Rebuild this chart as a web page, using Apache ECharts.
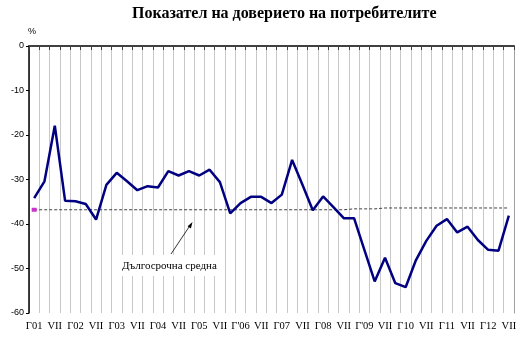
<!DOCTYPE html>
<html>
<head>
<meta charset="utf-8">
<script src="https://cdn.jsdelivr.net/npm/echarts@6/dist/echarts.min.js"></script>
<style>
  html, body { margin: 0; padding: 0; background: #fff; }
  #chart { width: 528px; height: 342px; }
</style>
</head>
<body>
<div id="chart"></div>
<script>
// Quarterly axis labels: January of each year and July in between
const tickLabels = [
  'Г01', '', 'VII', '', 'Г02', '', 'VII', '', 'Г03', '', 'VII', '',
  'Г04', '', 'VII', '', 'Г05', '', 'VII', '', "Г'06", '', 'VII', '',
  'Г07', '', 'VII', '', 'Г08', '', 'VII', '', "Г'09", '', 'VII', '',
  'Г10', '', 'VII', '', 'Г11', '', 'VII', '', 'Г12', '', 'VII'
];

// Consumer confidence indicator, %
const confidence = [
  -34.2, -30.4, -17.9, -34.8, -34.9, -35.5, -39.0, -31.2, -28.5, -30.4, -32.4, -31.5,
  -31.8, -28.1, -29.1, -28.1, -29.1, -27.8, -30.6, -37.6, -35.3, -33.9, -33.9, -35.3,
  -33.4, -25.6, -31.2, -36.9, -33.8, -36.2, -38.7, -38.7, -45.8, -52.9, -47.6, -53.3,
  -54.2, -48.1, -43.8, -40.4, -38.9, -41.9, -40.6, -43.6, -45.8, -46.0, -38.1
];

// Long-term average
const longTermAverage = [
  -36.8, -36.8, -36.8, -36.8, -36.8, -36.8, -36.8, -36.8, -36.8, -36.8, -36.8, -36.8,
  -36.8, -36.8, -36.8, -36.8, -36.8, -36.8, -36.8, -36.8, -36.8, -36.8, -36.8, -36.8,
  -36.8, -36.8, -36.8, -36.8, -36.8, -36.8, -36.8, -36.6, -36.6, -36.6, -36.4, -36.4,
  -36.4, -36.4, -36.4, -36.4, -36.4, -36.4, -36.4, -36.4, -36.4, -36.4, -36.4
];

const yTicks = { min: -60, max: 0, interval: 10 };

const chart = echarts.init(document.getElementById('chart'), null, { renderer: 'canvas' });

const avgData = longTermAverage.map((v, i) => i === 0
  ? { value: v, symbol: 'rect', symbolSize: [5, 4], itemStyle: { color: '#cc33cc' } }
  : v);

chart.setOption({
  animation: false,
  backgroundColor: '#fff',
  title: {
    text: 'Показател на доверието на потребителите',
    left: 127,
    top: 1,
    textStyle: {
      fontFamily: 'Liberation Serif',
      fontWeight: 'bold',
      fontSize: 16,
      color: '#000'
    }
  },
  grid: { left: 29, right: 14, top: 46, bottom: 29, containLabel: false },
  xAxis: [
    {
      type: 'category',
      data: tickLabels,
      position: 'bottom',
      boundaryGap: true,
      axisLine: { show: true, lineStyle: { color: '#a0a0a0', width: 1 } },
      axisTick: { show: false },
      axisLabel: {
        interval: 0,
        margin: 8,
        fontFamily: 'Liberation Serif',
        fontSize: 10.5,
        color: '#000'
      },
      splitLine: { show: true, interval: 0, lineStyle: { color: '#c8c8c8', width: 1 } }
    },
    {
      type: 'category',
      data: tickLabels,
      position: 'top',
      boundaryGap: true,
      axisLine: { show: true, lineStyle: { color: '#404040', width: 2 } },
      axisTick: { show: true, inside: true, interval: 0, length: 4, lineStyle: { color: '#404040', width: 1 } },
      axisLabel: { show: false },
      splitLine: { show: false }
    }
  ],
  yAxis: [
    {
      type: 'value',
      min: yTicks.min,
      max: yTicks.max,
      interval: yTicks.interval,
      name: '%',
      nameLocation: 'end',
      nameGap: 10,
      nameTextStyle: { fontFamily: 'Liberation Sans', fontSize: 9, color: '#000', align: 'left', padding: [0, 0, 0, -1] },
      axisLine: { show: true, lineStyle: { color: '#000', width: 1.5 } },
      axisTick: { show: true, length: 3, lineStyle: { color: '#000' } },
      axisLabel: { margin: 5, fontFamily: 'Liberation Sans', fontSize: 9, color: '#000' },
      splitLine: { show: false }
    },
    {
      type: 'value',
      position: 'right',
      min: yTicks.min,
      max: yTicks.max,
      interval: yTicks.interval,
      axisLine: { show: true, lineStyle: { color: '#a0a0a0', width: 1 } },
      axisTick: { show: false },
      axisLabel: { show: false },
      splitLine: { show: false }
    }
  ],
  series: [
    {
      name: 'Дългосрочна средна',
      type: 'line',
      data: avgData,
      symbol: 'none',
      showSymbol: true,
      lineStyle: { color: '#404040', width: 1, type: [3, 2] },
      z: 2
    },
    {
      name: 'Показател на доверието',
      type: 'line',
      data: confidence,
      symbol: 'none',
      lineStyle: { color: '#000080', width: 2.5 },
      z: 3
    }
  ],
  graphic: [
    {
      type: 'rect',
      shape: { x: 118, y: 255, width: 106, height: 21 },
      style: { fill: '#fff' },
      z: 10
    },
    {
      type: 'text',
      style: {
        text: 'Дългосрочна средна',
        x: 122, y: 266,
        textVerticalAlign: 'middle',
        font: '11px "Liberation Serif"',
        fill: '#000'
      },
      z: 11
    },
    {
      type: 'line',
      shape: { x1: 171, y1: 254, x2: 191, y2: 224 },
      style: { stroke: '#000', lineWidth: 0.8 },
      z: 11
    },
    {
      type: 'polygon',
      shape: { points: [[192.5, 222], [187.6, 226.3], [190.9, 228.5]] },
      style: { fill: '#000' },
      z: 11
    }
  ]
});
</script>
</body>
</html>
